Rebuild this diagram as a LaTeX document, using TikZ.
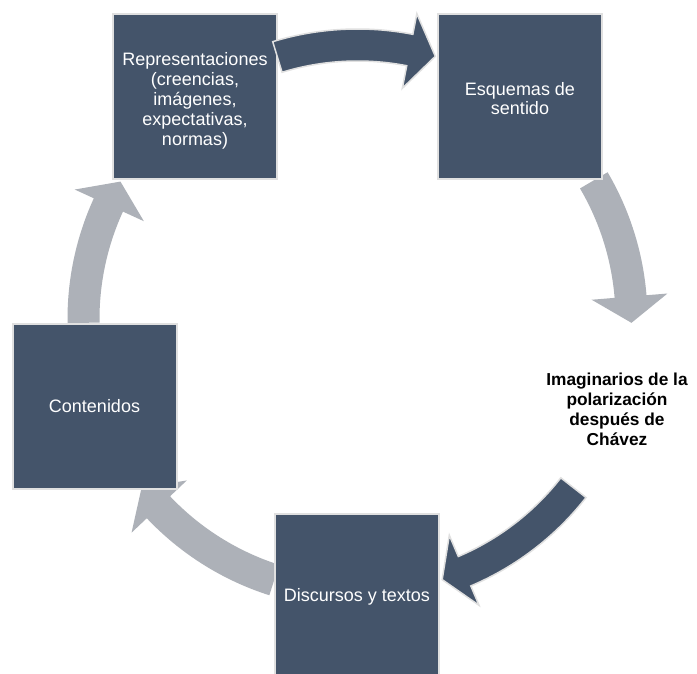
\documentclass[tikz,border=0pt]{standalone}
\usepackage{fontspec}
\setmainfont{Liberation Sans}
\definecolor{boxblue}{HTML}{44546A}
\definecolor{arrowgrey}{HTML}{ADB1B8}
\definecolor{rimgrey}{HTML}{E0E0E0}
\newcommand{\cyclearrow}[4]{%
  \path[#1] (#2:290pt) arc[start angle=#2, end angle=#3, radius=290pt]
    -- (#3:311pt) -- (#4:274pt) -- (#3:235pt) -- (#3:258pt)
    arc[start angle=#3, end angle=#2, radius=258pt] -- cycle;}
\tikzset{
  cyclebox/.style={rectangle, fill=boxblue, draw=rimgrey, line width=2pt,
    minimum width=164pt, minimum height=165pt, inner sep=0pt, text=white,
    align=center, font=\fontsize{18}{20}\selectfont},
  darkarrow/.style={fill=boxblue, draw=rimgrey, line width=1.5pt, line join=miter},
  greyarrow/.style={fill=arrowgrey, draw=none},
  hub/.style={align=center, text=black, font=\bfseries\fontsize{17.3}{20}\selectfont}
}
\begin{document}
\begin{tikzpicture}[x=1pt,y=1pt]
  \useasboundingbox (0,0) rectangle (697,-674);
  \clip (0,0) rectangle (697,-674);
  \fill[white] (0,0) rectangle (697,-674);
  % grey arrows (behind boxes)
  \begin{scope}[shift={(357.5,-319)}]
    \coordinate (center) at (0,0);
    \cyclearrow{greyarrow}{30.4}{4.7}{-0.8}
    \cyclearrow{greyarrow}{-107.7}{-136.6}{-142}
    \cyclearrow{greyarrow}{180.8}{155.4}{149.9}
  \end{scope}
  % boxes
  \node[cyclebox] (rep) at (195,-96.5) {};
  \node[white, align=center, font=\fontsize{18}{20}\selectfont] (reptext) at (195,-101)
    {Representaciones\\(creencias,\\imágenes,\\expectativas,\\normas)};
  \node[cyclebox] (esq) at (520,-96.5) {};
  \node[white, align=center, font=\fontsize{18}{19}\selectfont] (esqtext) at (520,-99)
    {Esquemas de\\sentido};
  \node[cyclebox] (con) at (94.5,-406.5) {Contenidos};
  \node[cyclebox] (dis) at (357,-596.5) {Discursos y textos};
  % hub text
  \node[hub] (ima) at (617,-409) {Imaginarios de la\\polarización\\después de\\Chávez};
  % dark arrows (over boxes)
  \begin{scope}[shift={(357.5,-319)}]
    \cyclearrow{darkarrow}{107}{79}{73.5}
    \cyclearrow{darkarrow}{-38}{-67}{-72}
  \end{scope}
\end{tikzpicture}
\end{document}
